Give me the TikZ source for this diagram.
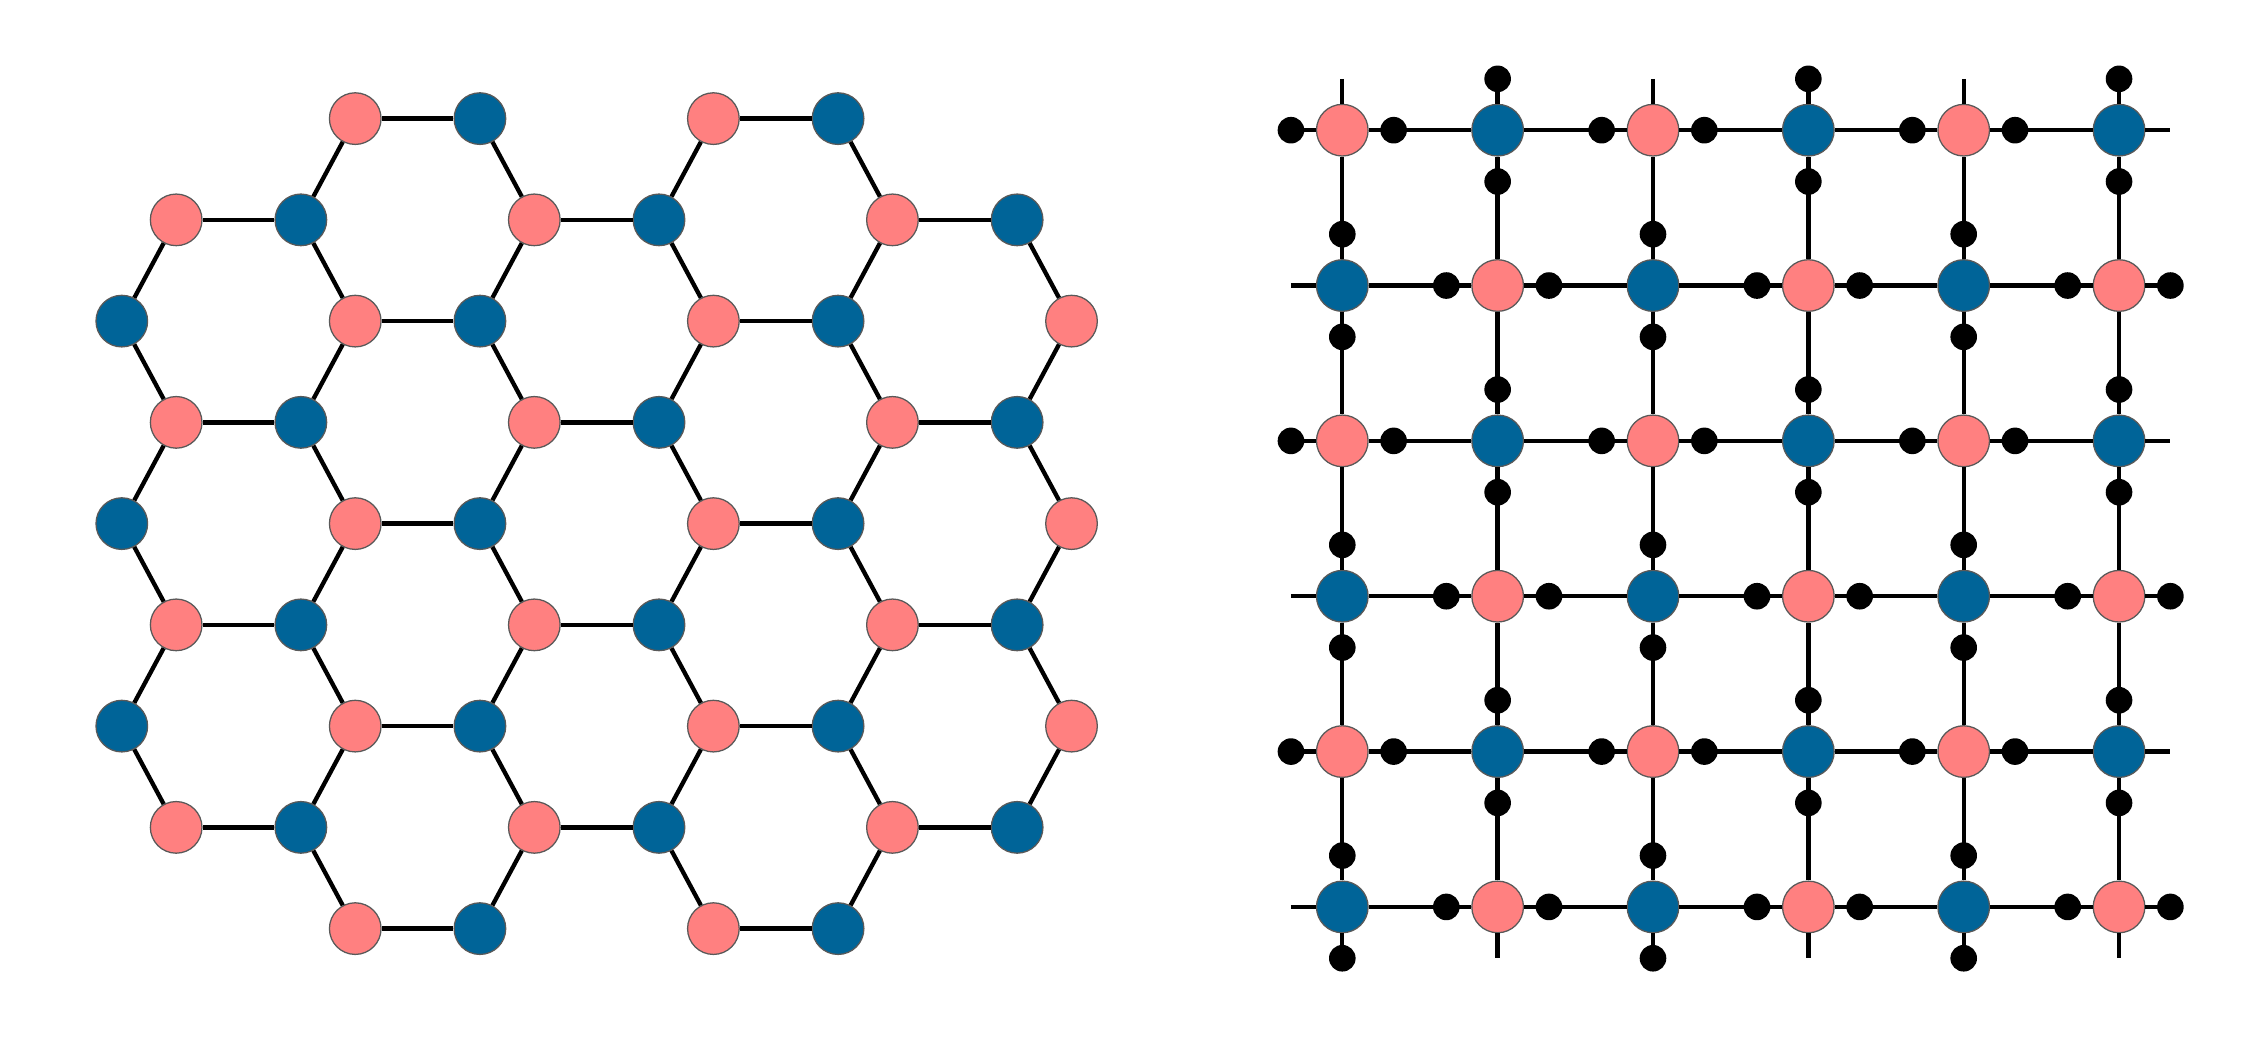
\documentclass[tikz,border=0pt]{standalone}
\usepackage{tikz}
\usepackage{xcolor}
\usetikzlibrary{positioning}

\definecolor{sitepink}{RGB}{255,128,128}
\definecolor{siteblue}{RGB}{0,100,152}

\begin{document}
\begin{tikzpicture}[x=0.02cm, y=-0.02cm,
    site/.style={circle, draw=black!65, line width=0.5pt, inner sep=0pt, minimum size=0.714cm},
    ion/.style={circle, fill=black, inner sep=0pt, minimum size=0.368cm},
    bond/.style={line width=1.7pt}]
  \useasboundingbox (0,0) rectangle (1568,717);

  % honeycomb lattice
  \foreach \r/\ks in {0/{3,4,7,8}, 1/{1,2,5,6,9,10}, 2/{0,3,4,7,8,11}, 3/{1,2,5,6,9,10},
                      4/{0,3,4,7,8,11}, 5/{1,2,5,6,9,10}, 6/{0,3,4,7,8,11}, 7/{1,2,5,6,9,10},
                      8/{3,4,7,8}}
    \foreach \k in \ks {
      \pgfmathsetmacro\hx{84.2+int(\k/2)*123.8+mod(\k,2)*37.6}
      \ifodd\k \def\c{sitepink}\else \def\c{siteblue}\fi
      \node[site, fill=\c] (h-\k-\r) at (\hx, 82+70*\r) {};
    }
  \foreach \r in {0,2,...,8}
    \foreach \a/\b in {3/4,7/8} \draw[bond] (h-\a-\r) -- (h-\b-\r);
  \foreach \r in {1,3,5,7}
    \foreach \a/\b in {1/2,5/6,9/10} \draw[bond] (h-\a-\r) -- (h-\b-\r);
  \foreach \e/\o in {0/1,2/1,2/3,4/3,4/5,6/5,6/7,8/7}
    \foreach \a/\b in {3/2,4/5,7/6,8/9} \draw[bond] (h-\a-\e) -- (h-\b-\o);
  \foreach \e/\o in {2/1,2/3,4/3,4/5,6/5,6/7}
    \foreach \a/\b in {0/1,11/10} \draw[bond] (h-\a-\e) -- (h-\b-\o);

  % square lattice with ions on the bonds
  \foreach \i in {0,...,5}
    \foreach \j in {0,...,5} {
      \pgfmathtruncatemacro\pq{mod(\i+\j,2)}
      \ifnum\pq=0
        \node[site, fill=sitepink] (s-\i-\j) at (928+107.4*\i, 90+107.4*\j) {};
        \node[ion, on grid, left=0.71cm of s-\i-\j] (w-\i-\j) {};
        \node[ion, on grid, right=0.71cm of s-\i-\j] (e-\i-\j) {};
      \else
        \node[site, fill=siteblue] (s-\i-\j) at (928+107.4*\i, 90+107.4*\j) {};
        \node[ion, on grid, above=0.71cm of s-\i-\j] (n-\i-\j) {};
        \node[ion, on grid, below=0.71cm of s-\i-\j] (d-\i-\j) {};
      \fi
    }
  \foreach \j in {0,...,5} {
    \coordinate (rl-\j) at (892.5, 90+107.4*\j);
    \coordinate (rr-\j) at (1500.5, 90+107.4*\j);
    \coordinate (ct-\j) at (928+107.4*\j, 54.5);
    \coordinate (cb-\j) at (928+107.4*\j, 662.5);
    \draw[bond] (rl-\j) -- (s-0-\j);
    \draw[bond] (s-5-\j) -- (rr-\j);
    \draw[bond] (ct-\j) -- (s-\j-0);
    \draw[bond] (s-\j-5) -- (cb-\j);
    \foreach \i [evaluate=\i as \n using int(\i+1)] in {0,...,4} {
      \draw[bond] (s-\i-\j) -- (s-\n-\j);
      \draw[bond] (s-\j-\i) -- (s-\j-\n);
    }
  }
\end{tikzpicture}
\end{document}
